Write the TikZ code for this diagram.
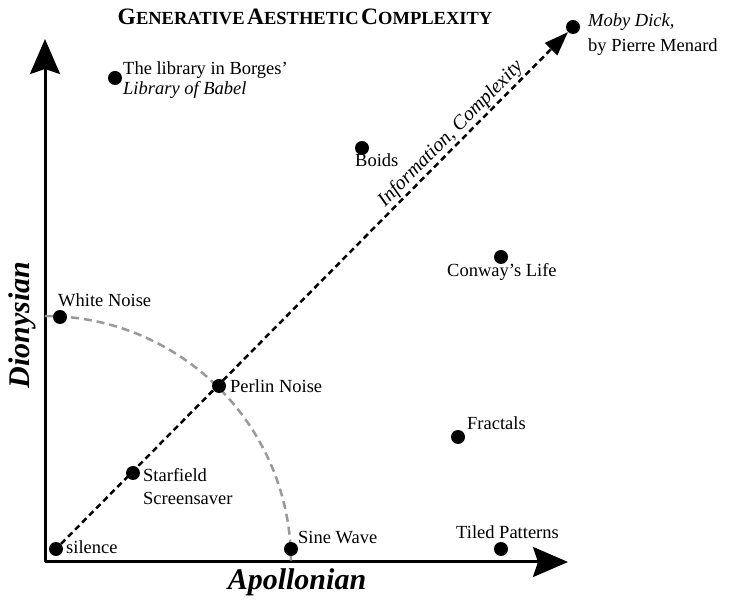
\documentclass[tikz,border=0pt]{standalone}
\usepackage{fontspec}
\setmainfont{Liberation Serif}
\usetikzlibrary{positioning,arrows.meta}
\newcommand*{\lbl}{\fontsize{18.5}{23}\selectfont}
\newcommand*{\axtext}{\fontsize{30}{30}\selectfont\bfseries\itshape}
\newcommand*{\capsc}[2]{{\fontsize{23.5}{24}\selectfont #1}{\fontsize{18.5}{24}\selectfont #2}}

\begin{document}
\begin{tikzpicture}[x=1pt,y=1pt,
  dot/.style={circle,fill,inner sep=0pt,minimum size=14pt},
  txt/.style={font=\lbl,inner sep=0pt,anchor=base west,align=left},
  axis/.style={line width=3pt,-{Stealth[length=35pt,width=30pt,inset=5pt]}},
  infoline/.style={line width=2.5pt,dash pattern=on 6pt off 4pt,
    -{Triangle[length=24pt,width=17pt]}},
  quarter/.style={line width=2.5pt,black!40,dash pattern=on 8pt off 5pt}]
\useasboundingbox (0,0) rectangle (729,600);
% Axes
\coordinate (o) at (45,38);
\coordinate (xend) at (568,38);
\coordinate (yend) at (45,561);
\draw[axis] (o) -- (xend);
\draw[axis] (o) -- (yend);
% Quarter circle through white noise, perlin noise and sine wave
\draw[quarter] (45,284) arc[start angle=90,end angle=0,radius=246];
% The points
\node[dot] (silence) at (56,51) {};
\node[dot] (sine) at (291,51) {};
\node[dot] (tiled) at (501,51) {};
\node[dot] (starfield) at (133,127) {};
\node[dot] (perlin) at (219,214) {};
\node[dot] (white) at (60,283) {};
\node[dot] (fractals) at (458,163) {};
\node[dot] (conway) at (501,343) {};
\node[dot] (boids) at (362,452) {};
\node[dot] (library) at (115,522) {};
\node[dot] (moby) at (573,573) {};
% Labels of the points (two-line ones sit on their last line)
\node[txt] (silencetxt) at (66,46) {silence};
\node[txt] (sinetxt) at (298,56) {Sine Wave};
\node[txt] (tiledtxt) at (456,61) {Tiled Patterns};
\node[txt] (starfieldtxt) at (143,95) {Starfield\\Screensaver};
\node[txt] (perlintxt) at (230,207) {Perlin Noise};
\node[txt] (whitetxt) at (58,293) {White Noise};
\node[txt] (fractalstxt) at (467,170) {Fractals};
\node[txt] (conwaytxt) at (447,323) {Conway’s Life};
\node[txt] (boidstxt) at (355,433) {Boids};
\node[txt,font=\fontsize{18.5}{20}\selectfont] (librarytxt) at (123,505)
  {The library in Borges’\\\textit{Library of Babel}};
\node[txt,font=\fontsize{18.5}{25}\selectfont] (mobytxt) at (588,548)
  {\textit{Moby Dick,}\\by Pierre Menard};
% The diagonal
\draw[infoline] (silence) -- (moby)
  node[pos=.785,sloped,above,inner sep=1pt,
       font=\fontsize{20}{24}\selectfont\itshape] (info)
  {Information, Complexity};
% Axis names and title
\node[anchor=base,inner sep=0pt,font=\axtext] (apollo) at (297,10) {Apollonian};
\node[anchor=base,inner sep=0pt,font=\axtext,rotate=90] (dionys) at (29,275) {Dionysian};
\node[anchor=base,inner sep=0pt,font=\bfseries] (title) at (305,575)
  {\capsc{G}{ENERATIVE} \capsc{A}{ESTHETIC} \capsc{C}{OMPLEXITY}};
\end{tikzpicture}
\end{document}
